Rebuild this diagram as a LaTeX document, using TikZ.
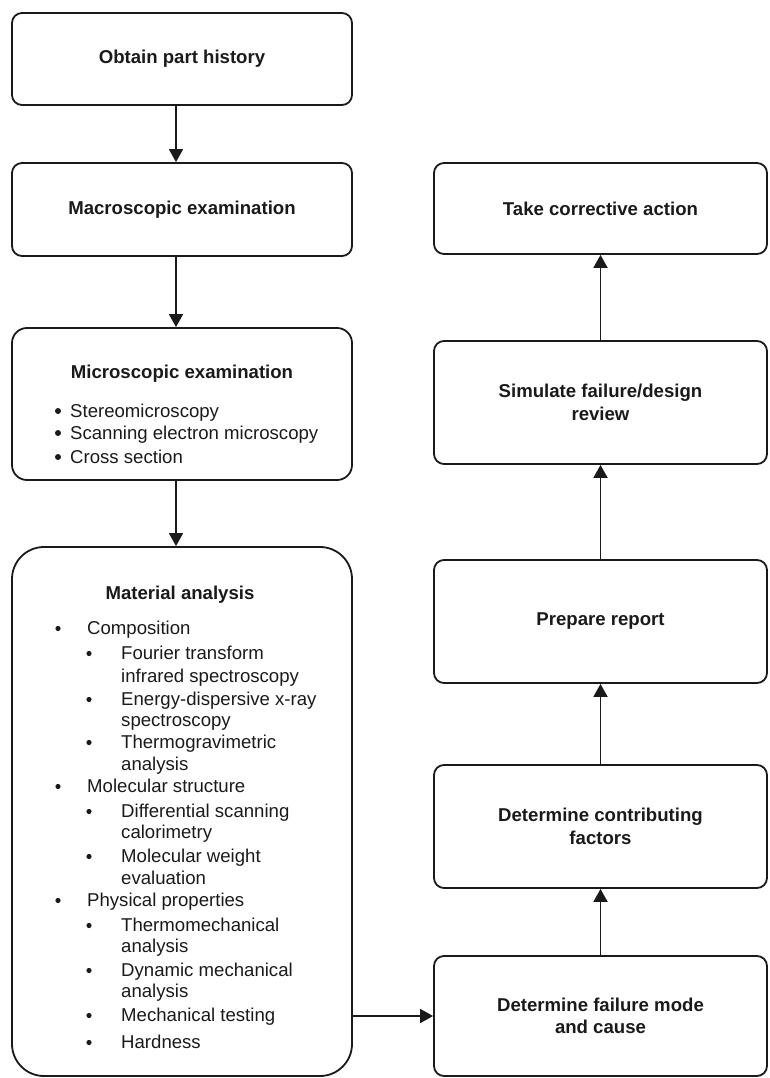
\documentclass[tikz,border=0pt]{standalone}
\usepackage{fontspec}
\setmainfont{Liberation Sans}
\usetikzlibrary{arrows.meta}
\definecolor{ink}{HTML}{1A1A1A}

\begin{document}
\begin{tikzpicture}[x=1pt, y=-1pt,
  box/.style={draw=ink, line width=1.8pt, rounded corners=10pt, inner sep=0pt,
    minimum width=340pt, align=center, text=ink,
    font=\bfseries\fontsize{18.6}{22.5}\selectfont},
  rbox/.style={box, minimum width=333pt, minimum height=123pt},
  title/.style={text=ink, inner sep=0pt, anchor=base,
    font=\bfseries\fontsize{18.6}{22.5}\selectfont},
  item/.style={text=ink, inner sep=0pt, anchor=base west,
    font=\fontsize{18.6}{22.5}\selectfont},
  flow/.style={draw=ink, line width=1.8pt, -{Triangle[length=13pt,width=14pt]}}]
  \useasboundingbox (0,0) rectangle (769,1078);

  % left column
  \node[box, minimum height=92pt] (obtain) at (182,59) {Obtain part history};
  \node[box, minimum height=93pt] (macro) at (182,209.5) {Macroscopic examination};
  \node[box, minimum height=152pt, rounded corners=15pt] (micro) at (182,404) {};
  \node[box, minimum height=529pt, rounded corners=32pt] (material) at (182,811.5) {};

  \node[title] (microtitle) at (182,378) {Microscopic examination};
  \foreach \y/\t [count=\i] in {417/Stereomicroscopy, 439/Scanning electron microscopy, 463/Cross section} {
    \node[item] (microitem\i) at (70,\y) {\t};
    \fill[ink] (58,\y-6) circle (3pt);
  }

  \node[title] (materialtitle) at (180,599) {Material analysis};
  \foreach \x/\y/\t [count=\i] in {
      87/634/Composition, 121/659/Fourier transform, 121/682/infrared spectroscopy,
      121/705/Energy-dispersive x-ray, 121/726/spectroscopy,
      121/748/Thermogravimetric, 121/770/analysis,
      87/792/Molecular structure, 121/817/Differential scanning, 121/838/calorimetry,
      121/862/Molecular weight, 121/884/evaluation,
      87/906/Physical properties, 121/931/Thermomechanical, 121/952/analysis,
      121/976/Dynamic mechanical, 121/997/analysis,
      121/1021/Mechanical testing, 121/1048/Hardness}
    \node[item] (matline\i) at (\x,\y) {\t};
  % bullets
  \foreach \x/\y in {58/634, 89/659, 89/705, 89/748, 58/792, 89/817, 89/862,
      58/906, 89/931, 89/976, 89/1021, 89/1048}
    \fill[ink] (\x,\y-5.5) circle (2.6pt);

  % right column
  \node[box, minimum width=333pt, minimum height=91pt] (corrective) at (600.5,208.5) {Take corrective action};
  \node[rbox] (simulate) at (600.5,402.5) {Simulate failure/design\\review};
  \node[rbox] (report) at (600.5,621.5) {Prepare report};
  \node[rbox] (factors) at (600.5,826.5) {Determine contributing\\factors};
  \node[rbox, minimum height=120pt] (cause) at (600.5,1016) {Determine failure mode\\and cause};

  \draw[flow] ([xshift=-6pt]obtain.south) -- ([xshift=-6pt]macro.north);
  \draw[flow] ([xshift=-6pt]macro.south) -- ([xshift=-6pt]micro.north);
  \draw[flow] ([xshift=-6pt]micro.south) -- ([xshift=-6pt]material.north);
  \draw[flow] (material.east |- cause.west) -- (cause.west);
  \draw[flow] (cause.north) -- (factors.south);
  \draw[flow] (factors.north) -- (report.south);
  \draw[flow] (report.north) -- (simulate.south);
  \draw[flow] (simulate.north) -- (corrective.south);
\end{tikzpicture}
\end{document}
